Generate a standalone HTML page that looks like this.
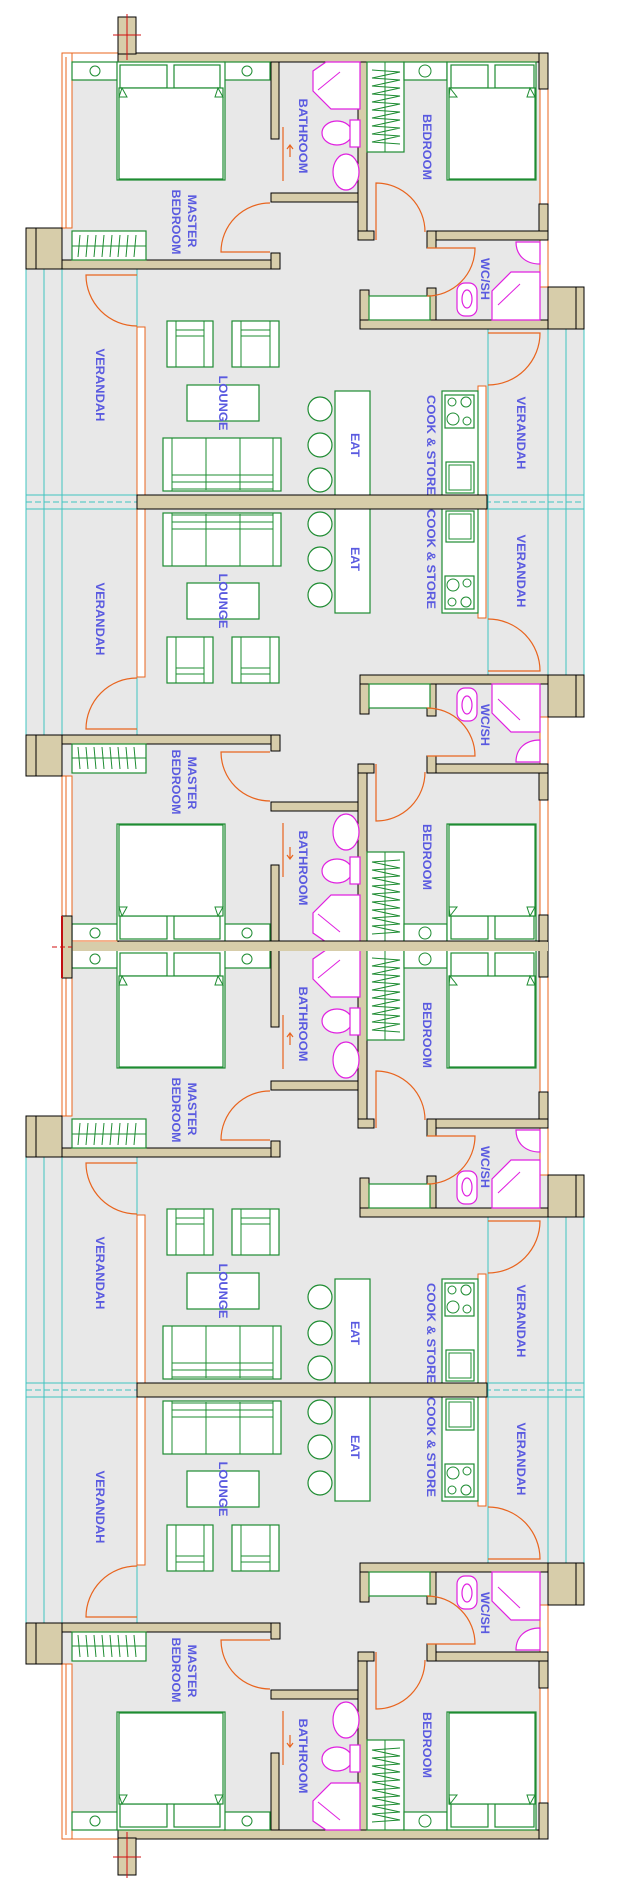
<!DOCTYPE html>
<html><head><meta charset="utf-8"><style>
html,body{margin:0;padding:0;background:#fff;width:624px;height:1892px;overflow:hidden}
svg{display:block}
.w{fill:#d7cdaa;stroke:#000;stroke-width:1}
.f{fill:#fff;stroke:#1e8c32;stroke-width:1.2}
.fn{fill:none;stroke:#1e8c32;stroke-width:1}
.m{fill:#fff;stroke:#e020e0;stroke-width:1.2}
.o{fill:none;stroke:#e8641e;stroke-width:1.2}
.t{fill:none;stroke:#40c4c0;stroke-width:1}
.l{font-family:"Liberation Sans",Arial,sans-serif;font-weight:bold;font-size:12px;fill:#5a5ae0}
</style></head><body>
<svg width="624" height="1892" viewBox="0 0 624 1892" xmlns="http://www.w3.org/2000/svg">
<defs>
<g id="u">
  <rect x="26" y="53" width="558" height="449" fill="#e8e8e8"/>
  <rect x="26" y="53" width="36" height="175" fill="#fff"/>
  <rect x="548" y="53" width="36" height="234" fill="#fff"/>
  <g class="t">
    <line x1="26" y1="269" x2="26" y2="502"/><line x1="44" y1="269" x2="44" y2="502"/>
    <line x1="62" y1="269" x2="62" y2="502"/><line x1="137" y1="269" x2="137" y2="502"/>
    <line x1="488" y1="329" x2="488" y2="502"/><line x1="548" y1="329" x2="548" y2="502"/>
    <line x1="566" y1="329" x2="566" y2="502"/><line x1="584" y1="329" x2="584" y2="502"/>
    <line x1="26" y1="495" x2="584" y2="495"/>
    <line x1="26" y1="502" x2="584" y2="502" stroke-dasharray="6,3"/>
  </g>
  <rect x="62" y="53" width="56" height="9" fill="#fff" stroke="#e8641e"/>
  <rect x="62" y="53" width="10" height="175" fill="#fff" stroke="#e8641e"/>
  <line x1="66" y1="57" x2="66" y2="228" stroke="#e8641e"/>
  <rect x="540" y="89" width="8" height="115" fill="#fff" stroke="#e8641e"/>
  <rect x="137" y="327" width="8" height="175" fill="#fff" stroke="#e8641e"/>
  <rect x="478" y="386" width="8" height="116" fill="#fff" stroke="#e8641e"/>
  <rect x="540" y="240" width="8" height="47" fill="#fff" stroke="#e8641e"/>
  <rect class="w" x="118" y="53" width="430" height="9"/>
  <rect class="w" x="539" y="53" width="9" height="36"/>
  <rect class="w" x="539" y="204" width="9" height="36"/>
  <rect class="w" x="271" y="62" width="8" height="77"/>
  <rect class="w" x="271" y="193" width="89" height="9"/>
  <rect class="w" x="358" y="62" width="9" height="178"/>
  <rect class="w" x="358" y="231" width="16" height="9"/>
  <rect class="w" x="427" y="231" width="121" height="9"/>
  <rect class="w" x="427" y="231" width="9" height="17"/>
  <rect class="w" x="427" y="288" width="9" height="41"/>
  <rect class="w" x="360" y="290" width="9" height="39"/>
  <rect class="w" x="360" y="320" width="188" height="9"/>
  <rect class="w" x="548" y="287" width="36" height="42"/>
  <line x1="576" y1="287" x2="576" y2="329" stroke="#000"/>
  <rect class="w" x="62" y="260" width="218" height="9"/>
  <rect class="w" x="271" y="253" width="9" height="16"/>
  <rect class="w" x="26" y="228" width="36" height="41"/>
  <line x1="36" y1="228" x2="36" y2="269" stroke="#000"/>
  <rect class="f" x="72" y="62" width="46" height="18"/><circle class="fn" cx="95" cy="71" r="5"/>
  <rect class="f" x="224" y="62" width="46" height="18"/><circle class="fn" cx="247" cy="71" r="5"/>
  <rect class="f" x="117" y="62" width="108" height="118"/>
  <rect class="f" x="120" y="65" width="47" height="23"/><rect class="f" x="174" y="65" width="46" height="23"/>
  <rect class="f" x="119" y="88" width="104" height="91"/>
  <path class="fn" d="M122,88 L119,97 L127,97 Z M218,88 L223,97 L215,97 Z"/>
  <rect class="f" x="72" y="231" width="74" height="29"/>
  <line class="fn" x1="72" y1="246" x2="146" y2="246"/>
  <path class="fn" d="M80,235 L78,257 M88,235 L86,257 M96,235 L94,257 M104,235 L102,257 M112,235 L110,257 M120,235 L118,257 M128,235 L126,257 M136,235 L134,257"/>
  <path class="m" d="M326,62 L360,62 L360,109 L331,109 L313,91 L313,71 Z"/>
  <line x1="318" y1="90" x2="340" y2="72" stroke="#e020e0"/>
  <ellipse class="m" cx="337" cy="133" rx="15" ry="12"/>
  <rect class="m" x="350" y="120" width="10" height="27"/>
  <ellipse class="m" cx="346" cy="172" rx="13" ry="18"/>
  <line class="o" x1="283" y1="127" x2="283" y2="181"/>
  <path class="o" d="M290,157 L290,145 M287,149 L290,145 L293,149"/>
  <rect class="f" x="367" y="62" width="37" height="90"/>
  <line class="fn" x1="385" y1="62" x2="385" y2="152"/>
  <path class="fn" d="M372,70 L400,72 L372,78 L400,80 L372,86 L400,88 L372,94 L400,96 L372,102 L400,104 L372,110 L400,112 L372,118 L400,120 L372,126 L400,128 L372,134 L400,136 L372,142 L400,144"/>
  <rect class="f" x="404" y="62" width="43" height="18"/><circle class="fn" cx="425" cy="71" r="6"/>
  <rect class="f" x="447" y="62" width="89" height="118"/>
  <rect class="f" x="451" y="65" width="37" height="23"/><rect class="f" x="495" y="65" width="39" height="23"/>
  <rect class="f" x="449" y="88" width="86" height="91"/>
  <path class="fn" d="M450,88 L449,97 L457,97 Z M530,88 L535,97 L527,97 Z"/>
  <path class="m" d="M540,242 L540,264 C525,264 516,255 516,242 Z"/>
  <path class="m" d="M511,272 L540,272 L540,320 L492,320 L492,291 Z"/>
  <line x1="498" y1="305" x2="520" y2="284" stroke="#e020e0"/>
  <rect class="m" x="457" y="283" width="20" height="33" rx="8"/>
  <ellipse class="m" cx="467" cy="299" rx="5" ry="9"/>
  <rect class="f" x="369" y="296" width="61" height="24"/>
  <path class="o" d="M270,252 L221,252 A49,49 0 0 1 270,203"/>
  <path class="o" d="M376,240 L376,183 A49,49 0 0 1 425,232"/>
  <path class="o" d="M427,248 L475,248 A48,48 0 0 1 427,296"/>
  <path class="o" d="M137,275 L86,275 A51,51 0 0 0 137,326"/>
  <path class="o" d="M488,333 L540,333 A52,52 0 0 1 488,385"/>
  <g>
    <rect class="f" x="167" y="321" width="46" height="46"/><line class="fn" x1="176" y1="321" x2="176" y2="367"/><line class="fn" x1="204" y1="321" x2="204" y2="367"/><line class="fn" x1="176" y1="330" x2="204" y2="330"/><line class="fn" x1="176" y1="336" x2="204" y2="336"/>
    <rect class="f" x="232" y="321" width="47" height="46"/><line class="fn" x1="241" y1="321" x2="241" y2="367"/><line class="fn" x1="270" y1="321" x2="270" y2="367"/><line class="fn" x1="241" y1="330" x2="270" y2="330"/><line class="fn" x1="241" y1="336" x2="270" y2="336"/>
    <rect class="f" x="187" y="385" width="72" height="36"/>
    <rect class="f" x="163" y="438" width="118" height="53"/>
    <line class="fn" x1="172" y1="438" x2="172" y2="491"/><line class="fn" x1="273" y1="438" x2="273" y2="491"/>
    <line class="fn" x1="206" y1="438" x2="206" y2="490"/><line class="fn" x1="240" y1="438" x2="240" y2="490"/>
    <line class="fn" x1="172" y1="475" x2="273" y2="475"/><line class="fn" x1="172" y1="482" x2="273" y2="482"/><line class="fn" x1="172" y1="489" x2="273" y2="489"/>
    <circle class="f" cx="320" cy="409" r="12"/><circle class="f" cx="320" cy="445" r="12"/><circle class="f" cx="320" cy="480" r="12"/>
    <rect class="f" x="335" y="391" width="35" height="108"/>
    <rect class="f" x="442" y="391" width="36" height="108"/>
    <rect class="f" x="445" y="395" width="29" height="33"/>
    <circle class="fn" cx="452" cy="402" r="4"/><circle class="fn" cx="466" cy="402" r="5"/><circle class="fn" cx="453" cy="419" r="6"/><circle class="fn" cx="467" cy="421" r="4"/>
    <rect class="f" x="446" y="462" width="28" height="31"/><rect class="fn" x="449" y="465" width="22" height="25"/>
  </g>
</g>
</defs>
<use href="#u"/>
<use href="#u" transform="translate(0,1004) scale(1,-1)"/>
<use href="#u" transform="translate(0,888)"/>
<use href="#u" transform="translate(0,1892) scale(1,-1)"/>
<rect class="w" x="137" y="495" width="350" height="14"/>
<rect class="w" x="137" y="1383" width="350" height="14"/>
<!-- middle wall -->
<rect x="62" y="942" width="486" height="9" fill="#d7cdaa"/>
<rect class="w" x="62" y="916" width="10" height="62"/>
<line x1="62" y1="916" x2="62" y2="978" stroke="#c01010" stroke-width="2"/>
<line x1="52" y1="947" x2="72" y2="947" stroke="#d01010" stroke-dasharray="5,3"/>
<rect class="w" x="118" y="17" width="18" height="37"/>
<rect class="w" x="118" y="1838" width="18" height="37"/>
<path d="M127,14 L127,60 M113,35 L141,35 M127,1832 L127,1878 M113,1857 L141,1857" stroke="#d01010" stroke-width="1" fill="none"/>
<g class="l" text-anchor="middle" dominant-baseline="central">
<text transform="translate(303,136) rotate(90)" textLength="75" lengthAdjust="spacingAndGlyphs">BATHROOM</text>
<text transform="translate(427,147) rotate(90)" textLength="66" lengthAdjust="spacingAndGlyphs">BEDROOM</text>
<text transform="translate(192,221) rotate(90)" textLength="53" lengthAdjust="spacingAndGlyphs">MASTER</text>
<text transform="translate(176,222) rotate(90)" textLength="65" lengthAdjust="spacingAndGlyphs">BEDROOM</text>
<text transform="translate(485,279) rotate(90)" textLength="42" lengthAdjust="spacingAndGlyphs">WC/SH</text>
<text transform="translate(100,385) rotate(90)" textLength="73" lengthAdjust="spacingAndGlyphs">VERANDAH</text>
<text transform="translate(223,403) rotate(90)" textLength="55" lengthAdjust="spacingAndGlyphs">LOUNGE</text>
<text transform="translate(355,445) rotate(90)" textLength="24" lengthAdjust="spacingAndGlyphs">EAT</text>
<text transform="translate(431,445) rotate(90)" textLength="100" lengthAdjust="spacingAndGlyphs">COOK &amp; STORE</text>
<text transform="translate(521,433) rotate(90)" textLength="73" lengthAdjust="spacingAndGlyphs">VERANDAH</text>

<text transform="translate(303,868) rotate(90)" textLength="75" lengthAdjust="spacingAndGlyphs">BATHROOM</text>
<text transform="translate(427,857) rotate(90)" textLength="66" lengthAdjust="spacingAndGlyphs">BEDROOM</text>
<text transform="translate(192,783) rotate(90)" textLength="53" lengthAdjust="spacingAndGlyphs">MASTER</text>
<text transform="translate(176,782) rotate(90)" textLength="65" lengthAdjust="spacingAndGlyphs">BEDROOM</text>
<text transform="translate(485,725) rotate(90)" textLength="42" lengthAdjust="spacingAndGlyphs">WC/SH</text>
<text transform="translate(100,619) rotate(90)" textLength="73" lengthAdjust="spacingAndGlyphs">VERANDAH</text>
<text transform="translate(223,601) rotate(90)" textLength="55" lengthAdjust="spacingAndGlyphs">LOUNGE</text>
<text transform="translate(355,559) rotate(90)" textLength="24" lengthAdjust="spacingAndGlyphs">EAT</text>
<text transform="translate(431,559) rotate(90)" textLength="100" lengthAdjust="spacingAndGlyphs">COOK &amp; STORE</text>
<text transform="translate(521,571) rotate(90)" textLength="73" lengthAdjust="spacingAndGlyphs">VERANDAH</text>

<text transform="translate(303,1024) rotate(90)" textLength="75" lengthAdjust="spacingAndGlyphs">BATHROOM</text>
<text transform="translate(427,1035) rotate(90)" textLength="66" lengthAdjust="spacingAndGlyphs">BEDROOM</text>
<text transform="translate(192,1109) rotate(90)" textLength="53" lengthAdjust="spacingAndGlyphs">MASTER</text>
<text transform="translate(176,1110) rotate(90)" textLength="65" lengthAdjust="spacingAndGlyphs">BEDROOM</text>
<text transform="translate(485,1167) rotate(90)" textLength="42" lengthAdjust="spacingAndGlyphs">WC/SH</text>
<text transform="translate(100,1273) rotate(90)" textLength="73" lengthAdjust="spacingAndGlyphs">VERANDAH</text>
<text transform="translate(223,1291) rotate(90)" textLength="55" lengthAdjust="spacingAndGlyphs">LOUNGE</text>
<text transform="translate(355,1333) rotate(90)" textLength="24" lengthAdjust="spacingAndGlyphs">EAT</text>
<text transform="translate(431,1333) rotate(90)" textLength="100" lengthAdjust="spacingAndGlyphs">COOK &amp; STORE</text>
<text transform="translate(521,1321) rotate(90)" textLength="73" lengthAdjust="spacingAndGlyphs">VERANDAH</text>

<text transform="translate(303,1756) rotate(90)" textLength="75" lengthAdjust="spacingAndGlyphs">BATHROOM</text>
<text transform="translate(427,1745) rotate(90)" textLength="66" lengthAdjust="spacingAndGlyphs">BEDROOM</text>
<text transform="translate(192,1671) rotate(90)" textLength="53" lengthAdjust="spacingAndGlyphs">MASTER</text>
<text transform="translate(176,1670) rotate(90)" textLength="65" lengthAdjust="spacingAndGlyphs">BEDROOM</text>
<text transform="translate(485,1613) rotate(90)" textLength="42" lengthAdjust="spacingAndGlyphs">WC/SH</text>
<text transform="translate(100,1507) rotate(90)" textLength="73" lengthAdjust="spacingAndGlyphs">VERANDAH</text>
<text transform="translate(223,1489) rotate(90)" textLength="55" lengthAdjust="spacingAndGlyphs">LOUNGE</text>
<text transform="translate(355,1447) rotate(90)" textLength="24" lengthAdjust="spacingAndGlyphs">EAT</text>
<text transform="translate(431,1447) rotate(90)" textLength="100" lengthAdjust="spacingAndGlyphs">COOK &amp; STORE</text>
<text transform="translate(521,1459) rotate(90)" textLength="73" lengthAdjust="spacingAndGlyphs">VERANDAH</text>
</g>
</svg>
</body></html>
